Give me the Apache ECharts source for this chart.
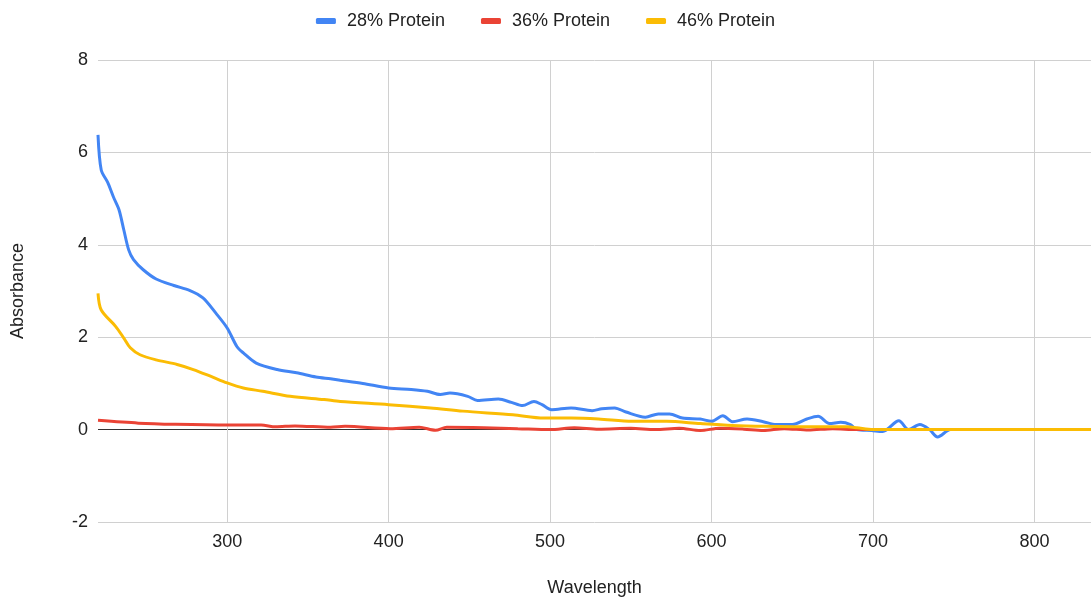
<!DOCTYPE html>
<html>
<head>
<meta charset="utf-8">
<script src="https://cdn.jsdelivr.net/npm/echarts@6/dist/echarts.min.js"></script>
<style>html,body{margin:0;padding:0;background:#fff;}#c{width:1091px;height:600px;}</style>
</head>
<body>
<div id="c"></div>
<script>
const seriesNames = ['28% Protein', '36% Protein', '46% Protein'];
const xTicks = [300, 400, 500, 600, 700, 800];
const yTicks = [-2, 0, 2, 4, 6, 8];

const blueX = [220,222,226,229.5,233,236,239,242,248,256,267,277,285,293,300,306,310,318,331,343,355,364,370,384,400,414,424,432,438,449,455,468,476,483,490,495,501,513,526,532,540,547,559,567,574,582,593,600,607,613,622,632,640,650,659,666,673,680,686,690,699,706,716,722,729,735,740,748,760,800,835];
const blueY = [6.38,5.62,5.35,5.04,4.76,4.32,3.89,3.68,3.46,3.26,3.12,3.01,2.85,2.52,2.20,1.80,1.66,1.44,1.30,1.23,1.14,1.10,1.07,1.00,0.90,0.87,0.83,0.76,0.79,0.72,0.63,0.66,0.59,0.52,0.61,0.54,0.43,0.47,0.41,0.45,0.47,0.38,0.27,0.34,0.34,0.25,0.23,0.18,0.30,0.17,0.23,0.17,0.11,0.11,0.23,0.29,0.13,0.16,0.11,0.0,-0.02,-0.04,0.19,0.0,0.11,0.0,-0.16,0.0,0.0,0.0,0.0];

const redX = [220,245,268,301,321,330,342,364,373,401,419,429,436,459,480,500,515,530,550,565,580,593,605,620,632,645,660,675,690,705,720,835];
const redY = [0.20,0.14,0.115,0.10,0.10,0.06,0.08,0.05,0.07,0.02,0.05,-0.015,0.05,0.04,0.02,0.0,0.04,0.01,0.03,0.0,0.03,-0.02,0.03,0.01,-0.02,0.02,-0.01,0.02,0.0,0.0,0.0,0.0];

const yellowX = [220,222,231,236,240,246,256,269,279,290,300,310,322,339,360,370,400,426,446,477,496,513,530,551,572,593,613,634,655,684,690,700,720,835];
const yellowY = [2.95,2.59,2.23,1.98,1.77,1.62,1.51,1.41,1.30,1.15,1.01,0.90,0.83,0.72,0.65,0.61,0.54,0.47,0.40,0.32,0.25,0.25,0.23,0.18,0.18,0.13,0.09,0.07,0.06,0.06,0.04,0.0,0.0,0.0];

const colors = ['#4285F4', '#EA4335', '#FBBC04'];
const pairs = (xs, ys) => xs.map((x, i) => [x, ys[i]]);
const allData = [pairs(blueX, blueY), pairs(redX, redY), pairs(yellowX, yellowY)];

const chart = echarts.init(document.getElementById('c'), null, {renderer: 'canvas'});
const font = 'Liberation Sans, Arial, sans-serif';
chart.setOption({
  animation: false,
  color: colors,
  textStyle: {fontFamily: font},
  legend: {
    top: 7, left: 'center',
    itemWidth: 20, itemHeight: 6, itemGap: 36,
    icon: 'roundRect',
    textStyle: {fontSize: 18, color: '#222', fontFamily: font, padding: [0, 0, 0, 6]},
    data: seriesNames
  },
  grid: {left: 98, right: 0, top: 60, bottom: 78, containLabel: false, outerBoundsMode: 'none'},
  xAxis: {
    type: 'value', min: 220, max: 835,
    name: 'Wavelength', nameLocation: 'middle', nameGap: 57,
    nameTextStyle: {fontSize: 18, color: '#222', fontFamily: font},
    axisLine: {show: false, onZero: false},
    axisTick: {show: false, customValues: xTicks},
    axisLabel: {customValues: xTicks, fontSize: 18, color: '#222', margin: 11, fontFamily: font},
    splitLine: {show: true, lineStyle: {color: '#d0d0d0', width: 1}}
  },
  yAxis: {
    type: 'value', min: -2, max: 8, interval: 2,
    name: 'Absorbance', nameLocation: 'middle', nameGap: 71,
    nameTextStyle: {fontSize: 18, color: '#222', fontFamily: font},
    axisLine: {show: false}, axisTick: {show: false},
    axisLabel: {fontSize: 18, color: '#222', margin: 10, fontFamily: font},
    splitLine: {show: true, lineStyle: {color: ['#d0d0d0', '#333333', '#d0d0d0', '#d0d0d0', '#d0d0d0', '#d0d0d0'], width: 1}}
  },
  series: seriesNames.map((n, i) => ({
    name: n, type: 'line', data: allData[i], smooth: 0.3,
    showSymbol: false, symbol: 'none',
    lineStyle: {width: 3, color: colors[i]},
    z: 2 + i
  }))
});
</script>
</body>
</html>
